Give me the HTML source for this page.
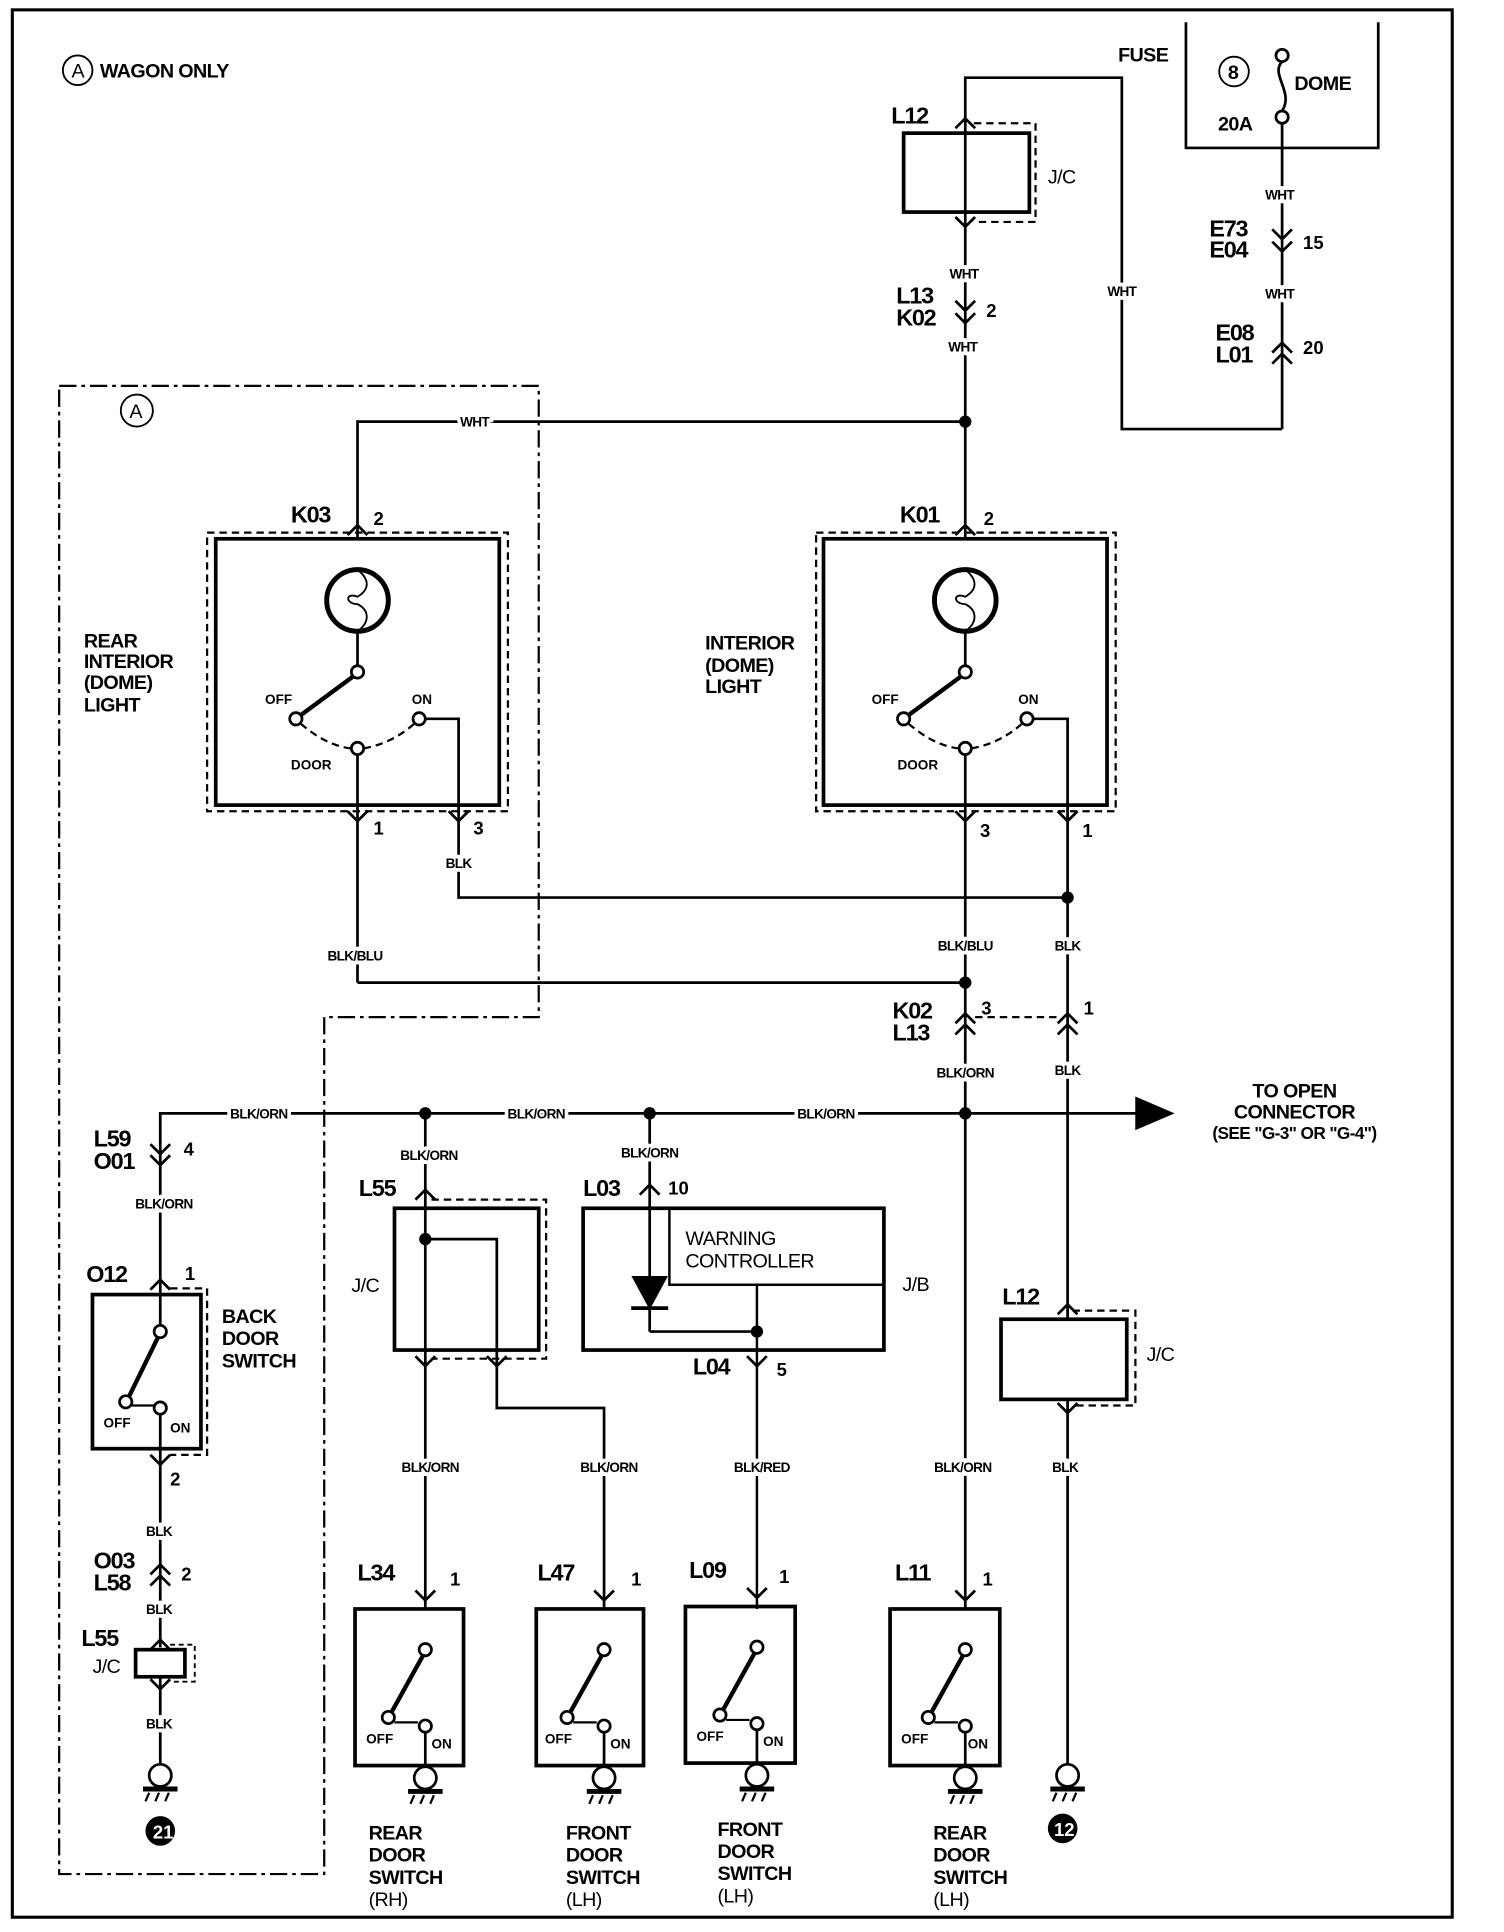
<!DOCTYPE html>
<html><head><meta charset="utf-8"><style>
html,body{margin:0;padding:0;background:#fff}
svg{display:block}
text{font-family:"Liberation Sans",Arial,sans-serif;font-weight:bold;fill:#000}
.w{font-size:11px;text-anchor:middle;paint-order:stroke;stroke:#fff;stroke-width:6px;letter-spacing:-0.5px}
.c{font-size:19px;letter-spacing:-1px}
.n{font-size:15px}
.t{font-size:16px;letter-spacing:-0.5px}
.s{font-size:11px}
</style></head><body>
<svg width="1504" height="1932" viewBox="0 0 1220 1567" preserveAspectRatio="none" xmlns="http://www.w3.org/2000/svg">
<g fill="none" stroke="#000" stroke-width="2.2">
<rect x="10" y="8" width="1168" height="1547" stroke-width="2.5"/>
<polyline points="962,18 962,120 1118,120 1118,18"/>
<circle cx="1001" cy="58" r="12" stroke-width="1.5"/>
<circle cx="1040" cy="45" r="5"/>
<circle cx="1040" cy="95" r="5"/>
<path d="M1040,50 C1030,60 1050,75 1040,90"/>
<line x1="1040" y1="100" x2="1040" y2="348"/>
<polyline points="1040,348 910,348 910,63 783,63 783,342"/>
<polyline points="1032,186 1040,194 1048,186"/><polyline points="1032,196 1040,204 1048,196"/>
<polyline points="1032,286 1040,278 1048,286"/><polyline points="1032,295 1040,287 1048,295"/>
<rect x="733" y="108" width="102" height="64" stroke-width="3"/>
<polyline points="790,100 840,100 840,180 790,180" stroke-dasharray="6,4" stroke-width="1.8"/>
<polyline points="775,104 783,96 791,104"/>
<polyline points="775,176 783,184 791,176"/>
<polyline points="775,244 783,252 791,244"/><polyline points="775,254 783,262 791,254"/>
<polyline points="290,437 290,342 783,342"/>
<line x1="783" y1="342" x2="783" y2="437"/>
<polyline points="48,313 437,313 437,825 263,825 263,1520 48,1520 48,313" stroke-dasharray="14,4,3,4" stroke-width="1.8"/>
<circle cx="111" cy="333" r="13" stroke-width="1.5"/>
<rect x="175" y="437" width="230" height="216" stroke-width="3"/>
<rect x="168" y="432" width="244" height="226" stroke-dasharray="6,4" stroke-width="1.8"/>
<polyline points="282,434 290,426 298,434"/>
<circle cx="290" cy="487" r="25" stroke-width="4"/>
<path d="M290,462 C300,470 300,478 290,484 C280,480 280,490 290,490 C300,495 300,505 290,512" stroke-width="1.5"/>
<line x1="290" y1="512" x2="290" y2="540"/>
<circle cx="290" cy="545" r="5" fill="#fff"/>
<line x1="286" y1="549" x2="244" y2="580" stroke-width="3.5"/>
<circle cx="240" cy="583" r="5" fill="#fff"/>
<circle cx="340" cy="583" r="5" fill="#fff"/>
<path d="M244,587 Q265,605 285,607 M295,607 Q318,603 336,587" stroke-dasharray="6,4" stroke-width="1.8"/>
<circle cx="290" cy="607" r="5" fill="#fff"/>
<line x1="290" y1="612" x2="290" y2="797"/>
<polyline points="345,583 372,583 372,728 866,728"/>
<polyline points="282,658 290,666 298,658"/><polyline points="364,658 372,666 380,658"/>
<polyline points="290,797 783,797"/>
<rect x="668" y="437" width="230" height="216" stroke-width="3"/>
<rect x="662" y="432" width="243" height="226" stroke-dasharray="6,4" stroke-width="1.8"/>
<polyline points="775,434 783,426 791,434"/>
<circle cx="783" cy="487" r="25" stroke-width="4"/>
<path d="M783,462 C793,470 793,478 783,484 C773,480 773,490 783,490 C793,495 793,505 783,512" stroke-width="1.5"/>
<line x1="783" y1="512" x2="783" y2="540"/>
<circle cx="783" cy="545" r="5" fill="#fff"/>
<line x1="779" y1="549" x2="737" y2="580" stroke-width="3.5"/>
<circle cx="733" cy="583" r="5" fill="#fff"/>
<circle cx="833" cy="583" r="5" fill="#fff"/>
<path d="M737,587 Q758,605 778,607 M788,607 Q811,603 829,587" stroke-dasharray="6,4" stroke-width="1.8"/>
<circle cx="783" cy="607" r="5" fill="#fff"/>
<line x1="783" y1="612" x2="783" y2="1305"/>
<polyline points="838,583 866,583 866,1070"/>
<polyline points="775,658 783,666 791,658"/><polyline points="858,658 866,666 874,658"/>
<polyline points="775,830 783,822 791,830"/><polyline points="775,839 783,831 791,839"/>
<polyline points="858,830 866,822 874,830"/><polyline points="858,839 866,831 874,839"/>
<line x1="791" y1="825" x2="858" y2="825" stroke-dasharray="6,4" stroke-width="1.8"/>
<polyline points="130,1040 130,903 925,903"/>
<polygon points="922,891 950,903 922,915" fill="#000"/>
<polyline points="122,928 130,936 138,928"/><polyline points="122,937 130,945 138,937"/>
<polyline points="122,1046 130,1038 138,1046"/>
<rect x="75" y="1050" width="88" height="125" stroke-width="3"/>
<polyline points="138,1045 168,1045 168,1180 138,1180" stroke-dasharray="6,4" stroke-width="1.8"/>
<line x1="130" y1="1040" x2="130" y2="1075"/>
<circle cx="130" cy="1080" r="5" fill="#fff"/>
<line x1="128" y1="1085" x2="105" y2="1132" stroke-width="3.5"/>
<circle cx="102" cy="1137" r="5" fill="#fff"/>
<line x1="107" y1="1140" x2="125" y2="1140" stroke-width="1.8"/>
<circle cx="130" cy="1142" r="5" fill="#fff"/>
<line x1="130" y1="1147" x2="130" y2="1336"/>
<polyline points="122,1180 130,1188 138,1180"/>
<polyline points="122,1277 130,1269 138,1277"/><polyline points="122,1286 130,1278 138,1286"/>
<polyline points="122,1338 130,1330 138,1338"/>
<rect x="110" y="1338" width="40" height="22" stroke-width="3"/>
<polyline points="138,1334 158,1334 158,1364 138,1364" stroke-dasharray="4,3" stroke-width="1.5"/>
<polyline points="122,1362 130,1370 138,1362"/>
<line x1="130" y1="1360" x2="130" y2="1432"/>
<line x1="345" y1="903" x2="345" y2="1305"/>
<polyline points="337,973 345,965 353,973"/>
<rect x="320" y="980" width="117" height="115" stroke-width="3"/>
<polyline points="350,973 443,973 443,1102 350,1102" stroke-dasharray="6,4" stroke-width="1.8"/>
<polyline points="345,1005 403,1005 403,1142 490,1142 490,1305"/>
<polyline points="337,1100 345,1108 353,1100"/><polyline points="395,1100 403,1108 411,1100"/>
<line x1="527" y1="903" x2="527" y2="1080"/>
<polyline points="519,969 527,961 535,969"/>
<rect x="473" y="980" width="244" height="115" stroke-width="3"/>
<polyline points="543,980 543,1042 717,1042" stroke-width="2"/>
<polygon points="514,1036 540,1036 527,1060" fill="#000"/>
<line x1="512" y1="1061" x2="542" y2="1061" stroke-width="3"/>
<polyline points="527,1080 614,1080"/>
<line x1="614" y1="1042" x2="614" y2="1305" stroke-width="2"/>
<polyline points="606,1100 614,1108 622,1100"/>
<polyline points="858,1066 866,1058 874,1066"/>
<rect x="812" y="1070" width="102" height="65" stroke-width="3"/>
<polyline points="870,1063 921,1063 921,1140 870,1140" stroke-dasharray="6,4" stroke-width="1.8"/>
<polyline points="858,1138 866,1146 874,1138"/>
<line x1="866" y1="1135" x2="866" y2="1432"/>
<polyline points="337,1290 345,1298 353,1290"/>
<polyline points="482,1290 490,1298 498,1290"/>
<polyline points="606,1288 614,1296 622,1288"/>
<polyline points="775,1290 783,1298 791,1290"/>
</g>
<g fill="none" stroke="#000" stroke-width="2.2">
<g transform="translate(345,0)">
<rect x="-57" y="1305" width="88" height="127" stroke-width="3"/>
<circle cx="0" cy="1338" r="5" fill="#fff"/><line x1="-2" y1="1343" x2="-27" y2="1388" stroke-width="3.5"/>
<circle cx="-30" cy="1393" r="5" fill="#fff"/><line x1="-25" y1="1397" x2="-6" y2="1397" stroke-width="1.8"/>
<circle cx="0" cy="1400" r="5" fill="#fff"/><line x1="0" y1="1405" x2="0" y2="1433"/>
<circle cx="0" cy="1442" r="9" fill="#fff"/><line x1="-14" y1="1453" x2="14" y2="1453" stroke-width="4"/>
<path d="M-9,1456 l-3,7 M-1,1456 l-3,7 M7,1456 l-3,7" stroke-width="1.8"/>
</g>
<g transform="translate(490,0)">
<rect x="-55" y="1305" width="87" height="127" stroke-width="3"/>
<circle cx="0" cy="1338" r="5" fill="#fff"/><line x1="-2" y1="1343" x2="-27" y2="1388" stroke-width="3.5"/>
<circle cx="-30" cy="1393" r="5" fill="#fff"/><line x1="-25" y1="1397" x2="-6" y2="1397" stroke-width="1.8"/>
<circle cx="0" cy="1400" r="5" fill="#fff"/><line x1="0" y1="1405" x2="0" y2="1433"/>
<circle cx="0" cy="1442" r="9" fill="#fff"/><line x1="-14" y1="1453" x2="14" y2="1453" stroke-width="4"/>
<path d="M-9,1456 l-3,7 M-1,1456 l-3,7 M7,1456 l-3,7" stroke-width="1.8"/>
</g>
<g transform="translate(614,-2)">
<rect x="-58" y="1305" width="89" height="127" stroke-width="3"/>
<circle cx="0" cy="1338" r="5" fill="#fff"/><line x1="-2" y1="1343" x2="-27" y2="1388" stroke-width="3.5"/>
<circle cx="-30" cy="1393" r="5" fill="#fff"/><line x1="-25" y1="1397" x2="-6" y2="1397" stroke-width="1.8"/>
<circle cx="0" cy="1400" r="5" fill="#fff"/><line x1="0" y1="1405" x2="0" y2="1433"/>
<circle cx="0" cy="1442" r="9" fill="#fff"/><line x1="-14" y1="1453" x2="14" y2="1453" stroke-width="4"/>
<path d="M-9,1456 l-3,7 M-1,1456 l-3,7 M7,1456 l-3,7" stroke-width="1.8"/>
</g>
<g transform="translate(783,0)">
<rect x="-61" y="1305" width="89" height="127" stroke-width="3"/>
<circle cx="0" cy="1338" r="5" fill="#fff"/><line x1="-2" y1="1343" x2="-27" y2="1388" stroke-width="3.5"/>
<circle cx="-30" cy="1393" r="5" fill="#fff"/><line x1="-25" y1="1397" x2="-6" y2="1397" stroke-width="1.8"/>
<circle cx="0" cy="1400" r="5" fill="#fff"/><line x1="0" y1="1405" x2="0" y2="1433"/>
<circle cx="0" cy="1442" r="9" fill="#fff"/><line x1="-14" y1="1453" x2="14" y2="1453" stroke-width="4"/>
<path d="M-9,1456 l-3,7 M-1,1456 l-3,7 M7,1456 l-3,7" stroke-width="1.8"/>
</g>
<g transform="translate(130,0)">
<circle cx="0" cy="1440" r="9" fill="#fff"/><line x1="-14" y1="1451" x2="14" y2="1451" stroke-width="4"/>
<path d="M-9,1454 l-3,7 M-1,1454 l-3,7 M7,1454 l-3,7" stroke-width="1.8"/>
</g>
<g transform="translate(866,0)">
<circle cx="0" cy="1440" r="9" fill="#fff"/><line x1="-14" y1="1451" x2="14" y2="1451" stroke-width="4"/>
<path d="M-9,1454 l-3,7 M-1,1454 l-3,7 M7,1454 l-3,7" stroke-width="1.8"/>
</g>
</g>
<g fill="#000">
<circle cx="783" cy="342" r="5"/><circle cx="866" cy="728" r="5"/><circle cx="783" cy="797" r="5"/>
<circle cx="345" cy="903" r="5"/><circle cx="527" cy="903" r="5"/><circle cx="783" cy="903" r="5"/>
<circle cx="345" cy="1005" r="5"/><circle cx="614" cy="1080" r="5"/>
<circle cx="130" cy="1485" r="12"/><circle cx="862" cy="1483" r="12"/>
</g>
<text x="124" y="1491" style="fill:#fff;font-size:15px">21</text>
<text x="855" y="1489" style="fill:#fff;font-size:15px">12</text>
<circle cx="63" cy="57" r="12" fill="none" stroke="#000" stroke-width="1.5"/>
<text x="58" y="63" class="t" style="font-weight:normal">A</text>
<text x="81" y="63" class="t">WAGON ONLY</text>
<text x="105" y="339" class="t" style="font-weight:normal">A</text>
<text x="907" y="50" class="t">FUSE</text>
<text x="996" y="64" class="t">8</text>
<text x="1050" y="73" class="t">DOME</text>
<text x="988" y="106" class="t">20A</text>
<text x="723" y="100" class="c">L12</text>
<text x="850" y="149" class="t" style="font-weight:normal">J/C</text>
<text x="981" y="192" class="c">E73</text><text x="981" y="209" class="c">E04</text>
<text x="1057" y="202" class="n">15</text>
<text x="986" y="276" class="c">E08</text><text x="986" y="294" class="c">L01</text>
<text x="1057" y="287" class="n">20</text>
<text x="727" y="246" class="c">L13</text><text x="727" y="264" class="c">K02</text>
<text x="800" y="257" class="n">2</text>
<text x="1038" y="162" class="w">WHT</text>
<text x="1038" y="242" class="w">WHT</text>
<text x="910" y="240" class="w">WHT</text>
<text x="782" y="226" class="w">WHT</text>
<text x="781" y="285" class="w">WHT</text>
<text x="385" y="346" class="w">WHT</text>
<text x="236" y="424" class="c">K03</text><text x="303" y="426" class="n">2</text>
<text x="730" y="424" class="c">K01</text><text x="798" y="426" class="n">2</text>
<text x="68" y="525" class="t">REAR</text><text x="68" y="542" class="t">INTERIOR</text>
<text x="68" y="559" class="t">(DOME)</text><text x="68" y="577" class="t">LIGHT</text>
<text x="572" y="527" class="t">INTERIOR</text><text x="572" y="545" class="t">(DOME)</text><text x="572" y="562" class="t">LIGHT</text>
<text x="215" y="571" class="s">OFF</text><text x="334" y="571" class="s">ON</text><text x="236" y="624" class="s">DOOR</text>
<text x="707" y="571" class="s">OFF</text><text x="826" y="571" class="s">ON</text><text x="728" y="624" class="s">DOOR</text>
<text x="303" y="677" class="n">1</text><text x="384" y="677" class="n">3</text>
<text x="795" y="679" class="n">3</text><text x="878" y="679" class="n">1</text>
<text x="372" y="704" class="w">BLK</text>
<text x="288" y="779" class="w">BLK/BLU</text>
<text x="783" y="771" class="w">BLK/BLU</text>
<text x="866" y="771" class="w">BLK</text>
<text x="724" y="826" class="c">K02</text><text x="724" y="844" class="c">L13</text>
<text x="796" y="823" class="n">3</text><text x="879" y="823" class="n">1</text>
<text x="783" y="874" class="w">BLK/ORN</text>
<text x="866" y="872" class="w">BLK</text>
<text x="210" y="907" class="w">BLK/ORN</text>
<text x="435" y="907" class="w">BLK/ORN</text>
<text x="670" y="907" class="w">BLK/ORN</text>
<text x="1050" y="890" class="t" style="text-anchor:middle">TO OPEN</text>
<text x="1050" y="907" class="t" style="text-anchor:middle">CONNECTOR</text>
<text x="1050" y="924" class="t" style="text-anchor:middle;font-size:14px">(SEE "G-3" OR "G-4")</text>
<text x="76" y="930" class="c">L59</text><text x="76" y="948" class="c">O01</text>
<text x="149" y="937" class="n">4</text>
<text x="133" y="980" class="w">BLK/ORN</text>
<text x="70" y="1040" class="c">O12</text><text x="150" y="1038" class="n">1</text>
<text x="180" y="1073" class="t">BACK</text><text x="180" y="1091" class="t">DOOR</text><text x="180" y="1109" class="t">SWITCH</text>
<text x="84" y="1158" class="s">OFF</text><text x="138" y="1162" class="s">ON</text>
<text x="138" y="1205" class="n">2</text>
<text x="129" y="1246" class="w">BLK</text>
<text x="76" y="1272" class="c">O03</text><text x="76" y="1290" class="c">L58</text>
<text x="147" y="1282" class="n">2</text>
<text x="129" y="1309" class="w">BLK</text>
<text x="66" y="1335" class="c">L55</text><text x="75" y="1357" class="t" style="font-weight:normal">J/C</text>
<text x="129" y="1402" class="w">BLK</text>
<text x="348" y="941" class="w">BLK/ORN</text>
<text x="527" y="939" class="w">BLK/ORN</text>
<text x="291" y="970" class="c">L55</text>
<text x="285" y="1048" class="t" style="font-weight:normal">J/C</text>
<text x="473" y="970" class="c">L03</text><text x="542" y="969" class="n">10</text>
<text x="556" y="1010" class="t" style="font-weight:normal">WARNING</text>
<text x="556" y="1028" class="t" style="font-weight:normal">CONTROLLER</text>
<text x="732" y="1047" class="t" style="font-weight:normal">J/B</text>
<text x="562" y="1115" class="c">L04</text><text x="630" y="1116" class="n">5</text>
<text x="813" y="1058" class="c">L12</text>
<text x="930" y="1104" class="t" style="font-weight:normal">J/C</text>
<text x="349" y="1194" class="w">BLK/ORN</text>
<text x="494" y="1194" class="w">BLK/ORN</text>
<text x="618" y="1194" class="w">BLK/RED</text>
<text x="781" y="1194" class="w">BLK/ORN</text>
<text x="864" y="1194" class="w">BLK</text>
<text x="290" y="1282" class="c">L34</text><text x="365" y="1286" class="n">1</text>
<text x="436" y="1282" class="c">L47</text><text x="512" y="1286" class="n">1</text>
<text x="559" y="1280" class="c">L09</text><text x="632" y="1284" class="n">1</text>
<text x="726" y="1282" class="c">L11</text><text x="797" y="1286" class="n">1</text>
<text x="297" y="1414" class="s">OFF</text><text x="350" y="1418" class="s">ON</text>
<text x="442" y="1414" class="s">OFF</text><text x="495" y="1418" class="s">ON</text>
<text x="565" y="1412" class="s">OFF</text><text x="619" y="1416" class="s">ON</text>
<text x="731" y="1414" class="s">OFF</text><text x="785" y="1418" class="s">ON</text>
<text x="299" y="1492" class="t">REAR</text><text x="299" y="1510" class="t">DOOR</text><text x="299" y="1528" class="t">SWITCH</text><text x="299" y="1546" class="t" style="font-weight:normal">(RH)</text>
<text x="459" y="1492" class="t">FRONT</text><text x="459" y="1510" class="t">DOOR</text><text x="459" y="1528" class="t">SWITCH</text><text x="459" y="1546" class="t" style="font-weight:normal">(LH)</text>
<text x="582" y="1489" class="t">FRONT</text><text x="582" y="1507" class="t">DOOR</text><text x="582" y="1525" class="t">SWITCH</text><text x="582" y="1543" class="t" style="font-weight:normal">(LH)</text>
<text x="757" y="1492" class="t">REAR</text><text x="757" y="1510" class="t">DOOR</text><text x="757" y="1528" class="t">SWITCH</text><text x="757" y="1546" class="t" style="font-weight:normal">(LH)</text>
</svg>
</body></html>
